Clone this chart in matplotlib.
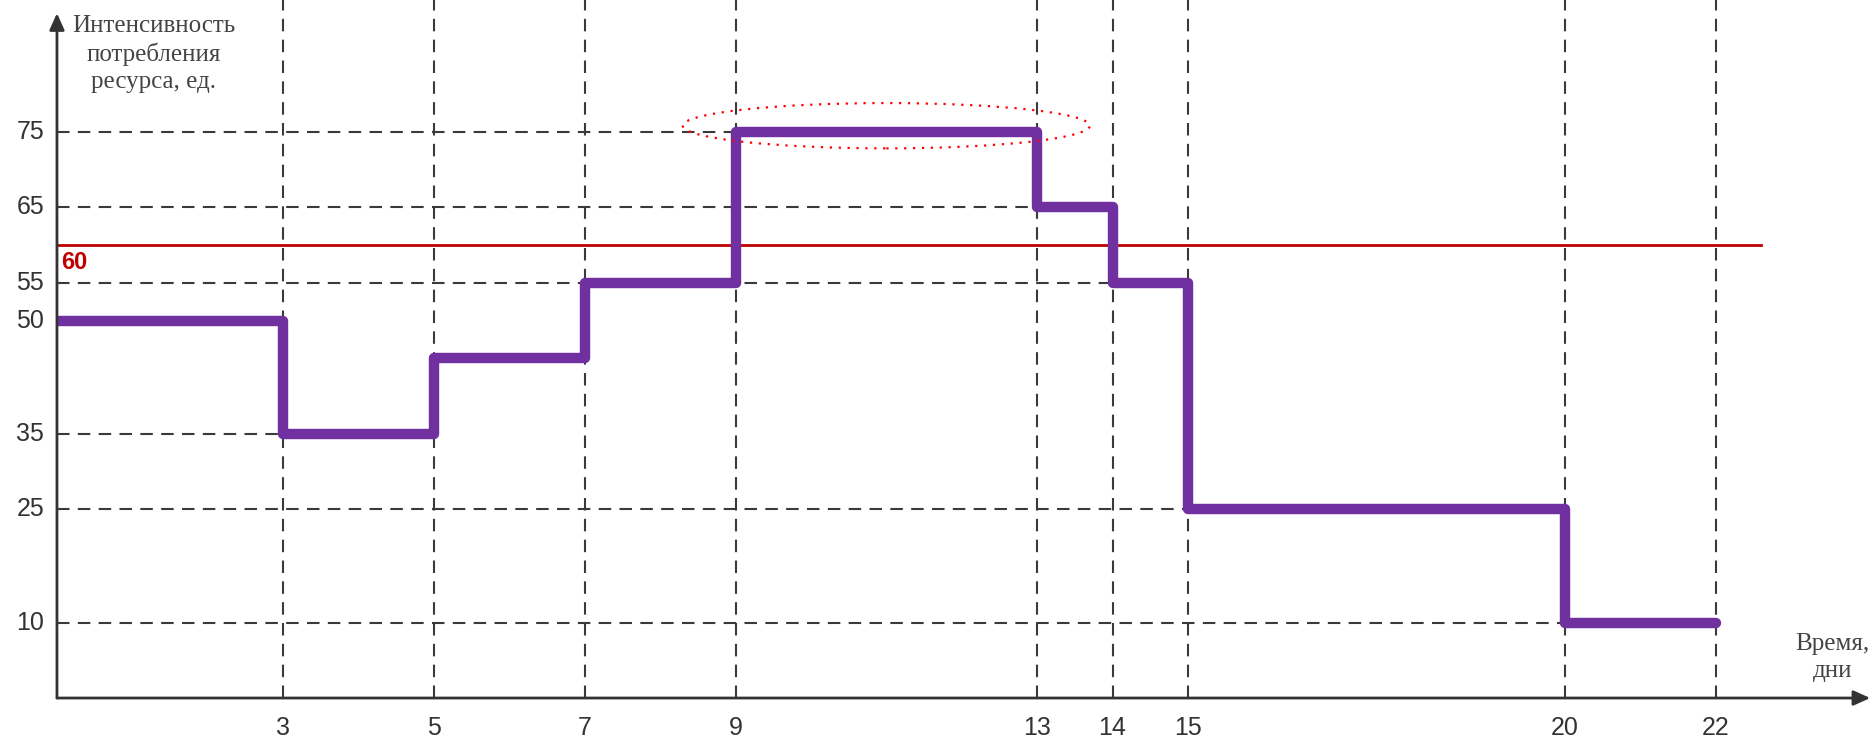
import numpy as np
import matplotlib.pyplot as plt
from matplotlib.patches import Ellipse

# step edges (days) and resource intensity on each interval
day_edges = [0, 3, 5, 7, 9, 13, 14, 15, 20, 22]
intensity = [50, 35, 45, 55, 75, 65, 55, 25, 10]
y_tick_values = [10, 25, 35, 50, 55, 65, 75]
limit_value = 60
limit_end = 22.6

fig = plt.figure(figsize=(18.74, 7.5), dpi=100)
ax = fig.add_axes([0.0304, 0.0693, 0.9696, 0.9307])
ax.set_xlim(0, 24.1)
ax.set_ylim(0, 92.45)
ax.axis("off")

guide_color = "#3a3a3a"
dash_style = (0, (6, 4))

# vertical guides at every change day
for day in day_edges[1:]:
    ax.plot([day, day], [0, 92.45], color=guide_color, lw=1.5, linestyle=dash_style, zorder=1)
    ax.text(day, -2.4, str(day), ha="center", va="top", fontsize=18,
            family="Liberation Sans", color="#333333", clip_on=False)

# horizontal guides from the axis to the last step at that level
segment_starts = np.array(day_edges[:-1])
segment_values = np.array(intensity)
for level in y_tick_values:
    starts = segment_starts[segment_values == level]
    end = starts.max()
    if end > 0:
        ax.plot([0, end], [level, level], color=guide_color, lw=1.5, linestyle=dash_style, zorder=1)
    ax.text(-0.17, level, str(level), ha="right", va="center", fontsize=18,
            family="Liberation Sans", color="#333333", clip_on=False)

# limit line
ax.plot([0, limit_end], [limit_value, limit_value], color="#C00000", lw=2, zorder=2)
ax.text(0.06, limit_value - 0.8, str(limit_value), ha="left", va="top", fontsize=17,
        fontweight="bold", family="Liberation Sans", color="#C00000")

# resource profile
profile = ax.stairs(intensity, day_edges, baseline=None, color="#7030A0", lw=7.5, zorder=3)
profile.set_joinstyle("round")
profile.set_capstyle("round")

# peak highlight
ax.add_patch(Ellipse((11.0, 75.8), 5.4, 6.0, fill=False, edgecolor="red",
                     lw=1.6, linestyle=(0, (1, 3)), zorder=4))

# axes with arrows
ax.annotate("", xy=(24.05, 0), xytext=(0, 0),
            arrowprops=dict(arrowstyle="-|>,head_length=1.0,head_width=0.45",
                            color="#333333", lw=2, shrinkA=0, shrinkB=0))
ax.annotate("", xy=(0, 90.7), xytext=(0, 0),
            arrowprops=dict(arrowstyle="-|>,head_length=1.0,head_width=0.45",
                            color="#333333", lw=2, shrinkA=0, shrinkB=0))

ax.text(1.28, 90.5, "Интенсивность\nпотребления\nресурса, ед.", ha="center", va="top",
        fontsize=18, family="Liberation Serif", color="#444444", linespacing=1.3)
ax.text(23.55, 5.4, "Время,\nдни", ha="center", va="center",
        fontsize=18, family="Liberation Serif", color="#444444", linespacing=1.3)

fig.savefig("out.png", dpi=100)
